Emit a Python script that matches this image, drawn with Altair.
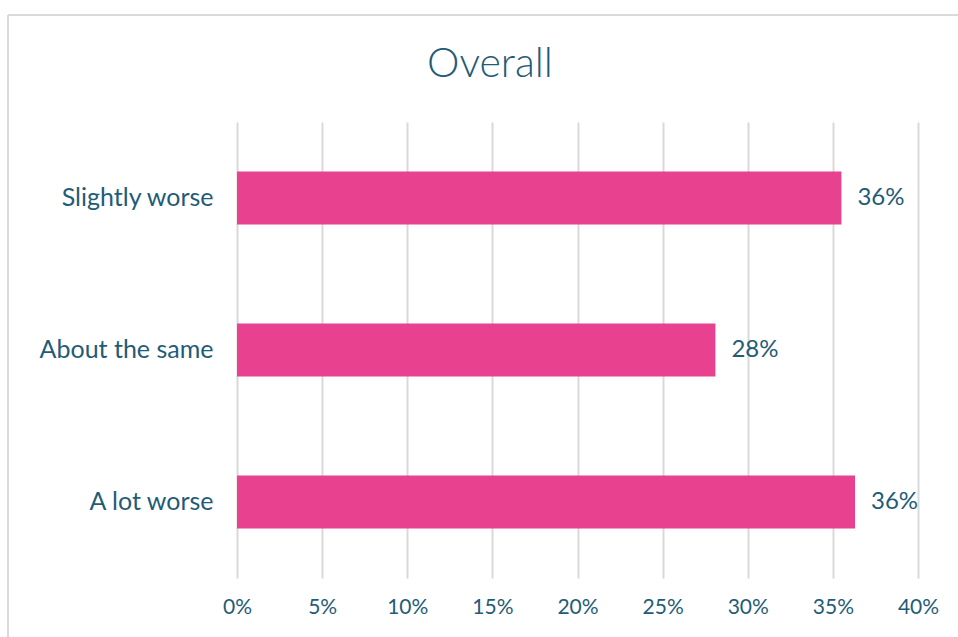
import altair as alt
import pandas as pd

categories = ["Slightly worse", "About the same", "A lot worse"]
values = [0.355, 0.281, 0.363]
x_ticks = [0, 0.05, 0.10, 0.15, 0.20, 0.25, 0.30, 0.35, 0.40]
title_text = ["Overall"]

df = pd.DataFrame({"category": categories, "value": values})
df_title = pd.DataFrame({"t": title_text})

TEXT = "#1F5C78"
FONT = "Lato"

y_enc = alt.Y("category:N", sort=categories, title=None,
              scale=alt.Scale(paddingInner=0.65, paddingOuter=0.325),
              axis=alt.Axis(ticks=False, domain=False, labelFontSize=25,
                            labelColor=TEXT, labelFont=FONT, labelPadding=24,
                            labelFontWeight="normal"))
x_enc = alt.X("value:Q", title=None,
              scale=alt.Scale(domain=[0, 0.4], nice=False),
              axis=alt.Axis(values=x_ticks, format=".0%", ticks=False, domain=False,
                            grid=True, gridColor="#D9D9D9", gridWidth=2,
                            labelFontSize=21, labelColor=TEXT, labelFont=FONT,
                            labelFontWeight="normal",
                            labelPadding=18, labelFlush=False))

bars = alt.Chart(df).mark_bar(color="#E8418F").encode(x=x_enc, y=y_enc)
labels = alt.Chart(df).mark_text(align="left", baseline="middle", dx=16,
                                 fontSize=24, color=TEXT, font=FONT).encode(
    x="value:Q", y=alt.Y("category:N", sort=categories),
    text=alt.Text("value:Q", format=".0%"))

border_top = alt.Chart(df).mark_rule(color="#D9D9D9", strokeWidth=2).encode(
    x=alt.value(-229), x2=alt.value(760), y=alt.value(-107))
border_left = alt.Chart(df).mark_rule(color="#D9D9D9", strokeWidth=2).encode(
    x=alt.value(-229), y=alt.value(-107), y2=alt.value(560))
title = alt.Chart(df_title).mark_text(align="center", baseline="middle",
                                      fontSize=41, fontWeight=300, color=TEXT, font=FONT).encode(
    x=alt.value(253), y=alt.value(-57), text="t:N")

chart = alt.layer(border_top, border_left, title, bars, labels).properties(
    width=681, height=456,
    autosize=alt.AutoSizeParams(type="none"),
    padding={"left": 237, "top": 122, "right": 40, "bottom": 59},
).configure_view(stroke=None)

chart.save("out.html", embed_options={"renderer": "svg", "actions": False})
